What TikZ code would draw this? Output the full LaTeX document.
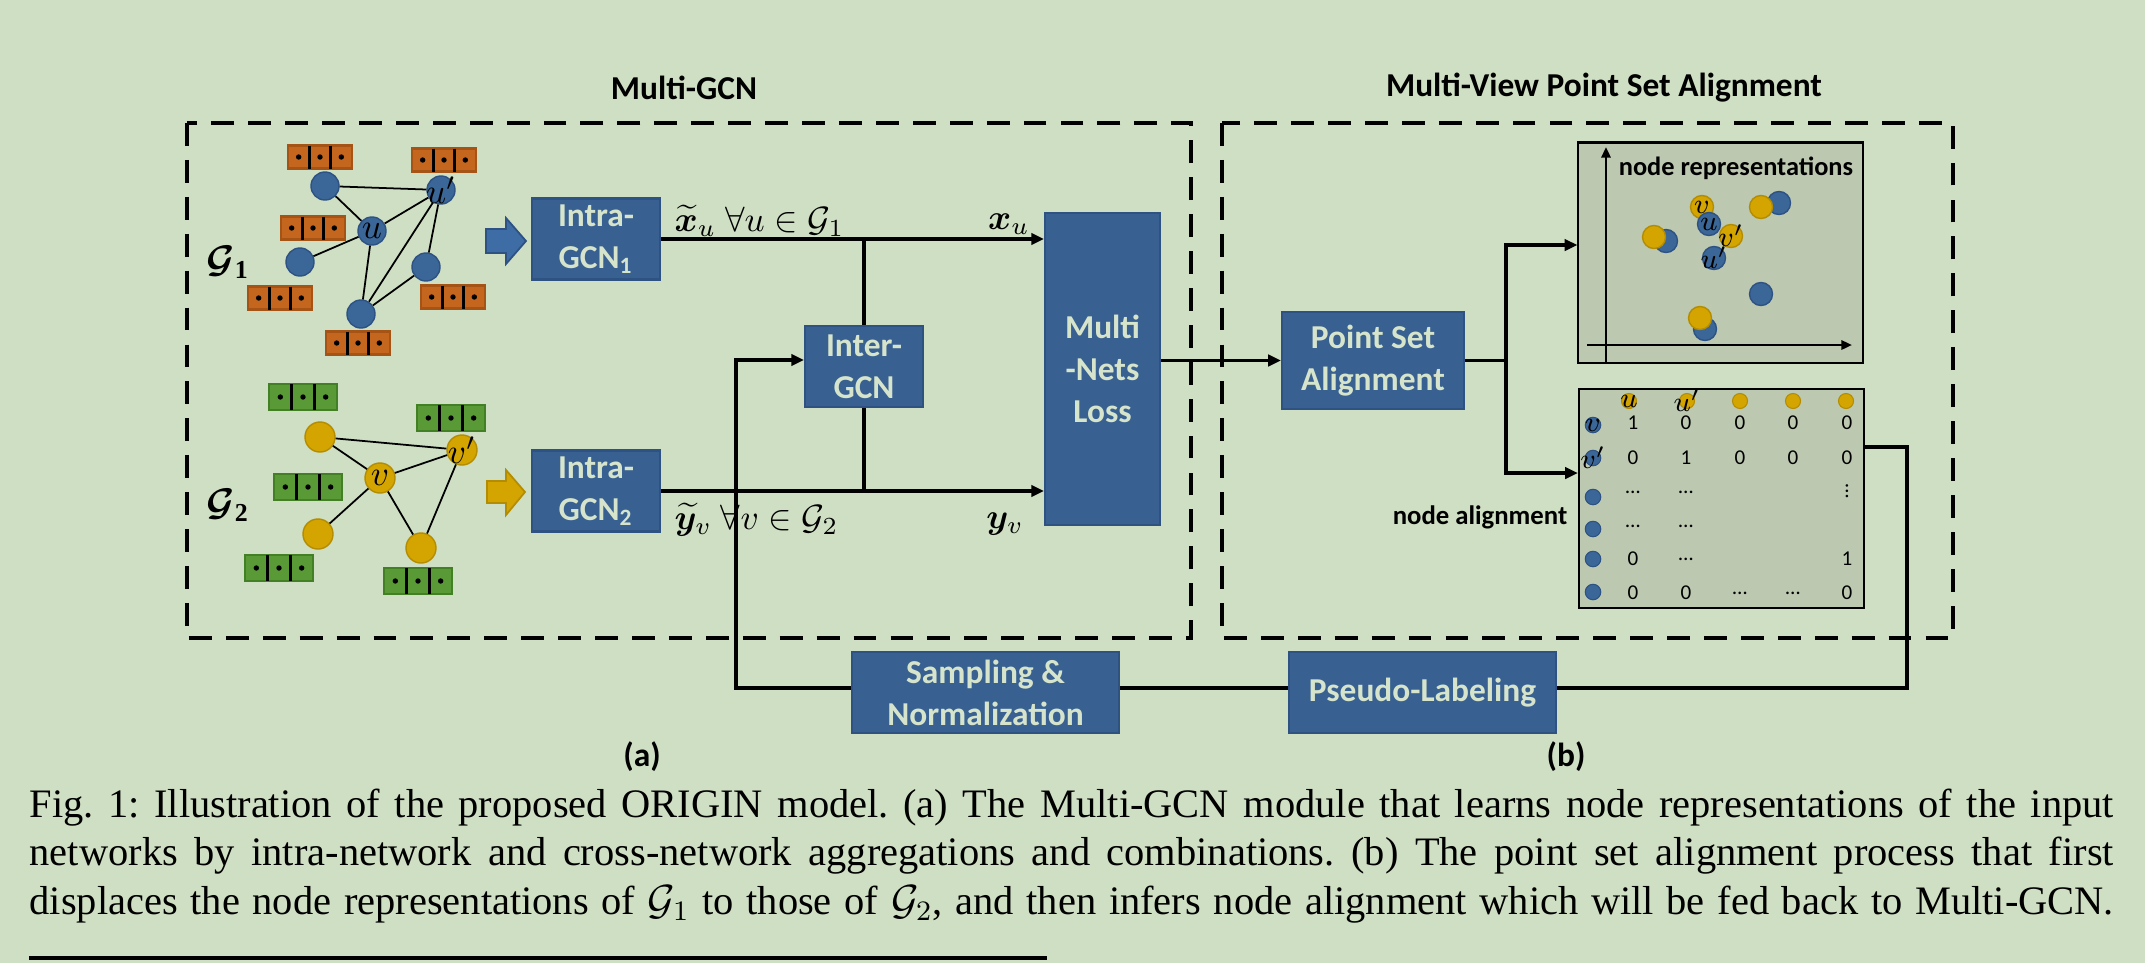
\documentclass[tikz,border=0pt]{standalone}
\usepackage{amsmath,bm}
\usepackage{graphicx}
\usepackage{fontspec}
\setmainfont{Liberation Serif}
\newfontfamily\calib{Carlito}
\usetikzlibrary{arrows.meta}
\definecolor{bg}{HTML}{CFDFC3}
\definecolor{boxblue}{HTML}{386192}
\definecolor{boxedge}{HTML}{2E5282}
\definecolor{boxtext}{HTML}{D6E4CB}
\definecolor{nodeblue}{HTML}{3B6698}
\definecolor{nodeblueedge}{HTML}{2D5283}
\definecolor{arrowblue}{HTML}{3E6CA4}
\definecolor{gold}{HTML}{D4A500}
\definecolor{goldedge}{HTML}{B38C00}
\definecolor{orng}{HTML}{C5661F}
\definecolor{orngedge}{HTML}{A65415}
\definecolor{grn}{HTML}{5A9A36}
\definecolor{grnedge}{HTML}{437F25}
\definecolor{panel}{HTML}{BCC8B0}
\newcommand\featbox[5]{%
  \begin{scope}[shift={(#1,#2)}]
    \draw[fill=#3, draw=#3edge, line width=0.6pt] (-#4,-#5) rectangle (#4,#5);
    \draw[line width=0.7pt] (-#4/3,-#5) -- (-#4/3,#5) (#4/3,-#5) -- (#4/3,#5);
    \fill (-2*#4/3,0) circle[radius=2.7] (0,0) circle[radius=2.7] (2*#4/3,0) circle[radius=2.7];
  \end{scope}}
\newcommand\mhdots{…}
\newcommand\mvdots{\rotatebox{90}{…}}
\tikzset{
  box/.style={draw=boxedge, fill=boxblue, text=boxtext, font=\calib\bfseries\fontsize{9.5}{12}\selectfont, align=center, inner sep=0pt, line width=0.6pt},
  conn/.style={line width=0.95pt},
  arr/.style={conn, -{Triangle[length=3.6pt,width=3.2pt]}},
  axisarr/.style={line width=0.7pt, -{Triangle[length=3pt,width=2.6pt]}},
  gedge/.style={line width=0.5pt},
  bnode/.style={circle, fill=nodeblue, draw=nodeblueedge, line width=0.4pt, minimum size=0.28cm, inner sep=0pt},
  ynode/.style={circle, fill=gold, draw=goldedge, line width=0.4pt, minimum size=0.30cm, inner sep=0pt},
  rb/.style={circle, fill=nodeblue, draw=nodeblueedge, line width=0.4pt, minimum size=0.23cm, inner sep=0pt},
  ry/.style={circle, fill=gold, draw=goldedge, line width=0.4pt, minimum size=0.23cm, inner sep=0pt},
  mb/.style={circle, fill=nodeblue, draw=nodeblueedge, line width=0.3pt, minimum size=0.155cm, inner sep=0pt},
  my/.style={circle, fill=gold, draw=goldedge, line width=0.3pt, minimum size=0.15cm, inner sep=0pt},
  dashbox/.style={line width=1.1pt, dash pattern=on 6.5pt off 4pt},
  titletext/.style={font=\calib\bfseries\fontsize{9.5}{12}\selectfont, inner sep=0pt},
  lab/.style={font=\fontsize{10}{12}\selectfont, inner sep=0pt},
  nlab/.style={font=\fontsize{10}{10}\selectfont},
  slab/.style={font=\fontsize{8}{8}\selectfont},
  num/.style={font=\calib\fontsize{6}{7}\selectfont, inner sep=0pt},
  captext/.style={font=\fontsize{11.5}{13.8}\selectfont, anchor=base west, inner sep=0pt},
}
\begin{document}
\begin{tikzpicture}[x=0.01cm,y=-0.01cm]
\fill[bg] (0,0) rectangle (2145,963);
\useasboundingbox (0,0) rectangle (2145,963);

% titles and frames
\node[titletext] (t1) at (684,88) {Multi-GCN};
\node[titletext] (t2) at (1604,88) {Multi-View Point Set Alignment};
\draw[dashbox] (187,123) rectangle (1191,638);
\draw[dashbox] (1222,123) rectangle (1953,638);

% ---------- graph G1 ----------
\featbox{320}{157}{orng}{32}{11.5}
\featbox{444}{160}{orng}{32}{11.5}
\featbox{313}{228}{orng}{32}{11.5}
\featbox{280}{298}{orng}{32}{11.5}
\featbox{453}{297}{orng}{32}{11.5}
\featbox{358}{343}{orng}{32}{11.5}
\node[bnode] (a1) at (325,186) {};
\node[bnode, label={[nlab]center:$u'$}] (up) at (441,190) {};
\node[bnode, label={[nlab]center:$u$}] (u) at (372,231) {};
\node[bnode] (l1) at (300,262) {};
\node[bnode] (r1) at (426,267) {};
\node[bnode] (b1) at (361,314) {};
\draw[gedge] (a1) -- (up) (a1) -- (u) (u) -- (up) (u) -- (l1) (u) -- (b1) (up) -- (b1) (up) -- (r1) (r1) -- (b1);
\node[font=\fontsize{10.5}{12}\selectfont] (g1) at (228,262) {$\boldsymbol{\mathcal{G}}_{\mathbf{1}}$};

% ---------- graph G2 ----------
\featbox{303}{397}{grn}{34}{13}
\featbox{451}{418}{grn}{34}{13}
\featbox{308}{487}{grn}{34}{13}
\featbox{279}{568}{grn}{34}{13}
\featbox{418}{581}{grn}{34}{13}
\node[ynode] (a2) at (320,437) {};
\node[ynode, label={[nlab]center:$v'$}] (vp) at (462,450) {};
\node[ynode, label={[nlab]center:$v$}] (v) at (380,478) {};
\node[ynode] (l2) at (318,534) {};
\node[ynode] (b2) at (421,548) {};
\draw[gedge] (a2) -- (vp) (a2) -- (v) (v) -- (vp) (v) -- (l2) (v) -- (b2) (vp) -- (b2);
\node[font=\fontsize{10.5}{12}\selectfont] (g2) at (228,505) {$\boldsymbol{\mathcal{G}}_{\mathbf{2}}$};

% block arrows
\filldraw[fill=arrowblue, draw=nodeblueedge, line width=0.5pt] (486,229) -- (506,229) -- (506,218) -- (526,241) -- (506,264) -- (506,253) -- (486,253) -- cycle;
\filldraw[fill=gold, draw=goldedge, line width=0.5pt] (487,481) -- (506,481) -- (506,470) -- (525,492) -- (506,515) -- (506,503) -- (487,503) -- cycle;

% ---------- boxes ----------
\node[box, minimum width=1.28cm, minimum height=0.81cm] (intra1) at (596,239) {Intra-\\GCN\textsubscript{1}};
\node[box, minimum width=1.28cm, minimum height=0.81cm] (intra2) at (596,491) {Intra-\\GCN\textsubscript{2}};
\node[box, minimum width=1.18cm, minimum height=0.81cm] (inter) at (864,366.5) {Inter-\\GCN};
\node[box, minimum width=1.15cm, minimum height=3.12cm] (mnl) at (1102.5,369) {Multi\\-Nets\\Loss};
\node[box, minimum width=1.82cm, minimum height=0.97cm] (psa) at (1373,360.5) {Point Set\\Alignment};
\node[box, minimum width=2.67cm, minimum height=0.81cm] (samp) at (985.5,692.5) {Sampling \&\\Normalization};
\node[box, minimum width=2.67cm, minimum height=0.81cm] (pseudo) at (1422.5,692.5) {Pseudo-Labeling};

% ---------- Multi-GCN connectors ----------
\draw[arr] (intra1.east) -- (mnl.west |- intra1.east);
\draw[arr] (intra2.east) -- (mnl.west |- intra2.east);
\draw[conn] (inter.north) -- (inter.north |- intra1.east);
\draw[conn] (inter.south) -- (inter.south |- intra2.east);
\node[lab, anchor=base west] (xl) at (674,231) {$\widetilde{\boldsymbol{x}}_u\ \forall u \in \mathcal{G}_1$};
\node[lab, anchor=base] (xu) at (1009,229) {$\boldsymbol{x}_u$};
\node[lab, anchor=base west] (yl) at (674,529) {$\widetilde{\boldsymbol{y}}_v\ \forall v \in \mathcal{G}_2$};
\node[lab, anchor=base] (yv) at (1005,528) {$\boldsymbol{y}_v$};

% ---------- feedback loop ----------
\coordinate (fbA) at (736,360);
\coordinate (fbB) at (736,688);
\coordinate (fbC) at (1907,688);
\coordinate (fbD) at (1907,447);
\draw[arr] (samp.west |- fbB) -- (fbB) -- (fbA) -- (inter.west |- fbA);
\draw[conn] (pseudo.west |- fbB) -- (samp.east |- fbB);

% ---------- right part ----------
\node[draw, line width=0.6pt, fill=panel, minimum width=2.84cm, minimum height=2.20cm, inner sep=0pt] (rep) at (1720.5,252.5) {};
\node[draw, line width=0.6pt, fill=panel, minimum width=2.85cm, minimum height=2.19cm, inner sep=0pt] (mat) at (1721.5,498.5) {};
\draw[arr] (mnl.east |- psa.west) -- (psa.west);
\coordinate (brT) at (1506,245);
\coordinate (brB) at (1506,473);
\draw[conn] (psa.east) -- (psa.east -| brT);
\draw[arr] (psa.east -| brT) -- (brT) -- (rep.west |- brT);
\draw[arr] (psa.east -| brT) -- (brB) -- (mat.west |- brB);
\draw[conn] (mat.east |- fbD) -- (fbD) -- (fbC) -- (pseudo.east |- fbC);

% node representations panel
\coordinate (ax0) at (1606,362);
\coordinate (ax1) at (1606,147);
\coordinate (ay0) at (1587,345);
\coordinate (ay1) at (1852,345);
\draw[axisarr] (ax0) -- (ax1);
\draw[axisarr] (ay0) -- (ay1);
\node[font=\calib\bfseries\fontsize{7.5}{9}\selectfont, inner sep=0pt] (replab) at (1736,168) {node representations};
\node[rb] (p1b) at (1666,241) {};
\node[ry] (p1y) at (1654,237) {};
\node[rb] (p2b) at (1779,203) {};
\node[ry] (p2y) at (1761,207) {};
\node[ry, label={[slab]center:$v$}] (pv) at (1702,207) {};
\node[rb, label={[slab]center:$u$}] (pu) at (1709,224) {};
\node[ry, label={[slab]center:$v'$}] (pvp) at (1731,236) {};
\node[rb, label={[slab]center:$u'$}] (pup) at (1714,258) {};
\node[rb] (p3b) at (1761,294) {};
\node[rb] (p4b) at (1705,329) {};
\node[ry] (p4y) at (1700,318) {};

% node alignment matrix
\node[font=\calib\bfseries\fontsize{7.6}{9}\selectfont, inner sep=0pt] (alab) at (1480,517) {node alignment};
\node[my, label={[slab]center:$u$}] (c1) at (1629,401) {};
\node[my, label={[slab]center:$u'$}] (c2) at (1687,401) {};
\node[my] (c3) at (1740,401) {};
\node[my] (c4) at (1793,401) {};
\node[my] (c5) at (1846,401) {};
\node[mb, label={[slab]center:$v$}] (r1d) at (1593,425) {};
\node[mb, label={[slab]center:$v'$}] (r2d) at (1593,458) {};
\node[mb] (r3d) at (1593,497) {};
\node[mb] (r4d) at (1593,529) {};
\node[mb] (r5d) at (1593,559) {};
\node[mb] (r6d) at (1593,592) {};
\foreach \x/\t [count=\i] in {1633/1,1686/0,1740/0,1793/0,1847/0} \node[num] (m1\i) at (\x,423) {\t};
\foreach \x/\t [count=\i] in {1633/0,1686/1,1740/0,1793/0,1847/0} \node[num] (m2\i) at (\x,458) {\t};
\node[num] (m31) at (1633,492) {\mhdots};
\node[num] (m32) at (1686,492) {\mhdots};
\node[num] (m35) at (1847,491) {\mvdots};
\node[num] (m41) at (1633,526) {\mhdots};
\node[num] (m42) at (1686,526) {\mhdots};
\node[num] (m51) at (1633,559) {0};
\node[num] (m52) at (1686,559) {\mhdots};
\node[num] (m55) at (1847,559) {1};
\node[num] (m61) at (1633,593) {0};
\node[num] (m62) at (1686,593) {0};
\node[num] (m63) at (1740,593) {\mhdots};
\node[num] (m64) at (1793,593) {\mhdots};
\node[num] (m65) at (1847,593) {0};

% sub-labels
\node[titletext] (la) at (642,757) {(a)};
\node[titletext] (lb) at (1566,757) {(b)};

% caption
\node[captext] (cap1) at (29,817) {\frenchspacing\makebox[20.83cm][s]{Fig. 1: Illustration of the proposed ORIGIN model. (a) The Multi-GCN module that learns node representations of the input}};
\node[captext] (cap2) at (29,865.5) {\frenchspacing\makebox[20.83cm][s]{networks by intra-network and cross-network aggregations and combinations. (b) The point set alignment process that first}};
\node[captext] (cap3) at (29,914) {\frenchspacing\makebox[20.83cm][s]{displaces the node representations of $\mathcal{G}_1$ to those of $\mathcal{G}_2$, and then infers node alignment which will be fed back to Multi-GCN.}};
\fill (29,956) rectangle (1047,960);
\end{tikzpicture}
\end{document}
